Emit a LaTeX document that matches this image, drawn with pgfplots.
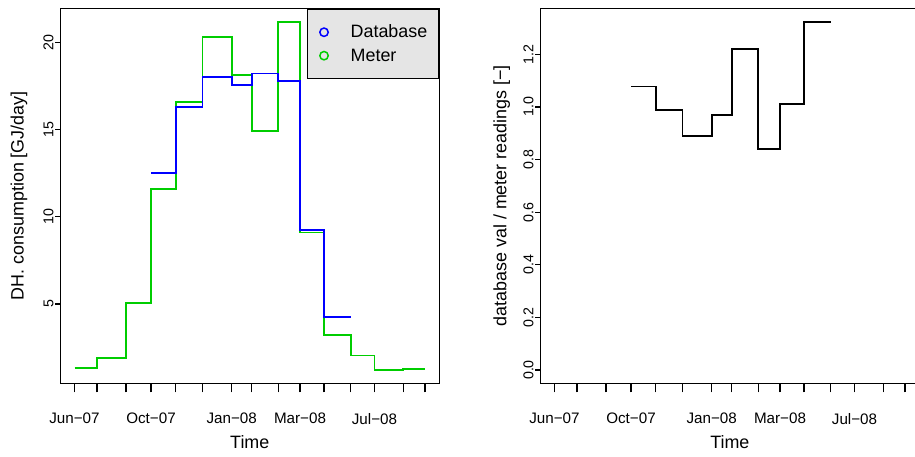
\documentclass[border=0pt]{standalone}
\usepackage{fontspec}
\setmainfont{Liberation Sans}
\usepackage{pgfplots}
\pgfplotsset{compat=1.18}
\definecolor{green3}{RGB}{0,205,0}
\definecolor{gray90}{RGB}{229,229,229}

% both panels share the reading dates (x in px offset from first reading)
\pgfplotsset{
  rpanel/.style={
    scale only axis, width=379pt, height=375pt,
    xmin=-14.2, xmax=364.8,
    axis line style={line width=1.4pt},
    tick align=outside, xtick pos=bottom, ytick pos=left,
    tick style={line width=1.2pt, black},
    xtick style={/pgfplots/major tick length=9pt},
    ytick style={/pgfplots/major tick length=5pt},
    xtick={0,22.5,51.5,76.5,101.2,128,157.2,177.2,203.8,225.5,249.5,276.2,300,328.8,350.5},
    xticklabels={Jun−07,,,Oct−07,,,Jan−08,,,Mar−08,,,Jul−08,,},
    xticklabel style={font=\fontsize{15.2}{17}\selectfont, anchor=north, yshift=-22pt},
    yticklabel style={font=\fontsize{14.2}{16}\selectfont, xshift=-7.5pt, rotate=90, anchor=center},
    /pgf/number format/assume math mode=true,
    xlabel={Time},
    every axis x label/.style={at={(axis description cs:0.5,-0.158)}, anchor=center,
      font=\fontsize{17.9}{20}\selectfont},
  }
}

\begin{document}
\begin{tikzpicture}
\path[use as bounding box, clip] (0,0) rectangle (915pt,456pt);

\begin{axis}[rpanel, at={(60.3pt,72.7pt)}, anchor=south west,
  ymin=0.45, ymax=21.95,
  ytick={5,10,15,20},
  ylabel={DH. consumption [GJ/day]},
  every axis y label/.style={at={(axis description cs:-0.109,0.5)}, rotate=90, anchor=center,
    font=\fontsize{17.9}{20}\selectfont},
  legend image code/.code={\draw[#1] (0pt,0pt) circle (4.2pt);},
  legend style={at={(1,1)}, anchor=north east, fill=gray90, draw=black, line width=1.4pt,
    font=\fontsize{17.9}{20}\selectfont, nodes={inner sep=0pt},
    inner xsep=11.3pt, inner ysep=16pt, row sep=9.3pt, cells={anchor=west},
    /tikz/every odd column/.append style={column sep=21.7pt}},
]
\addplot[green3, line width=1.8pt, const plot, forget plot] coordinates {
  (0,1.35) (22.5,1.92) (51.5,5.06) (76.5,11.59) (101.2,16.56) (128,20.29)
  (157.2,18.13) (177.2,14.92) (203.8,21.17) (225.5,9.10) (249.5,3.24)
  (276.2,2.04) (300,1.22) (328.8,1.29) (350.5,1.29)};
\addplot[blue, line width=1.8pt, const plot, forget plot] coordinates {
  (76.5,12.51) (101.2,16.31) (128,18.03) (157.2,17.56) (177.2,18.21)
  (203.8,17.79) (225.5,9.24) (249.5,4.27) (276.2,4.27)};
\addlegendimage{blue, line width=1.5pt}
\addlegendentry{Database}
\addlegendimage{green3, line width=1.5pt}
\addlegendentry{Meter}
\end{axis}

\begin{axis}[rpanel, at={(540.3pt,72.7pt)}, anchor=south west,
  ymin=-0.0506, ymax=1.375,
  ytick={0,0.2,0.4,0.6,0.8,1.0,1.2},
  yticklabels={0.0,0.2,0.4,0.6,0.8,1.0,1.2},
  ylabel={database val / meter readings [−]},
  every axis y label/.style={at={(axis description cs:-0.102,0.5)}, rotate=90, anchor=center,
    font=\fontsize{17.9}{20}\selectfont},
]
\addplot[black, line width=1.8pt, const plot] coordinates {
  (76.5,1.078) (101.2,0.988) (128,0.889) (157.2,0.969) (177.2,1.22)
  (203.8,0.84) (225.5,1.01) (249.5,1.324) (276.2,1.324)};
\end{axis}
\end{tikzpicture}
\end{document}
